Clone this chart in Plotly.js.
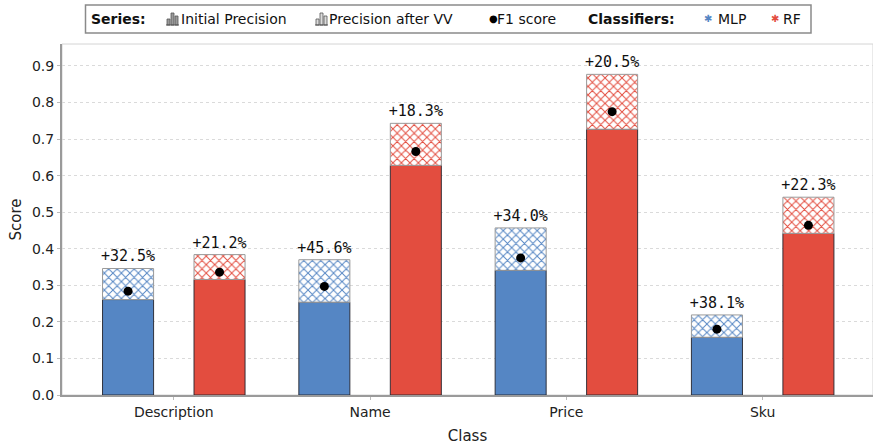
<!DOCTYPE html>
<html>
<head>
<meta charset="utf-8">
<script src="https://cdn.plot.ly/plotly-3.0.1.min.js"></script>
<style>html,body{margin:0;padding:0;background:#fff;}#chart{width:873px;height:445px;}</style>
</head>
<body>
<div id="chart"></div>
<script>
// ---- data ----
const categories = ['Description', 'Name', 'Price', 'Sku'];
const mlpInitial = [0.261, 0.254, 0.341, 0.158];
const mlpAfterVV = [0.346, 0.370, 0.457, 0.219];
const mlpF1 = [0.284, 0.297, 0.375, 0.180];
const rfInitial = [0.316, 0.628, 0.727, 0.442];
const rfAfterVV = [0.384, 0.743, 0.877, 0.541];
const rfF1 = [0.336, 0.666, 0.775, 0.464];
const mlpGainLabels = ['+32.5%', '+45.6%', '+34.0%', '+38.1%'];
const rfGainLabels = ['+21.2%', '+18.3%', '+20.5%', '+22.3%'];
const yTickVals = [0, 0.1, 0.2, 0.3, 0.4, 0.5, 0.6, 0.7, 0.8, 0.9];

// ---- style ----
const BLUE = '#5586C4';
const RED = '#E34D3F';
const FONT = 'DejaVu Sans, sans-serif';
const MONO = 'DejaVu Sans Mono, monospace';

const W = 873, H = 445, ML = 62, MR = 0, MT = 44, MB = 50;
const PW = W - ML - MR, PH = H - MT - MB;
const X = px => (px - ML) / PW;
const Y = py => (H - MB - py) / PH;

function diff(a, b) { return a.map((v, i) => v - b[i]); }

function initialTrace(name, y, color, group) {
  return {
    type: 'bar', name: name, x: categories, y: y, offsetgroup: group,
    marker: { color: color, line: { color: 'rgba(35,35,45,0.9)', width: 1 } },
    hoverinfo: 'skip'
  };
}
function gainTrace(name, initial, after, labels, color, group) {
  return {
    type: 'bar', name: name, x: categories, y: diff(after, initial), base: initial,
    offsetgroup: group,
    marker: {
      color: 'white',
      line: { color: '#9a9a9a', width: 1 },
      pattern: { shape: 'x', fgcolor: color, bgcolor: 'white', size: 6, solidity: 0.3 }
    },
    text: labels, textposition: 'outside', constraintext: 'none', cliponaxis: false,
    textfont: { family: MONO, size: 15, color: '#111' },
    hoverinfo: 'skip'
  };
}
function f1Trace(name, y, group) {
  return {
    type: 'scatter', mode: 'markers', name: name, x: categories, y: y, offsetgroup: group,
    marker: { color: '#000', size: 9, symbol: 'circle' }, cliponaxis: false, hoverinfo: 'skip'
  };
}

const data = [
  initialTrace('MLP initial', mlpInitial, BLUE, 'mlp'),
  gainTrace('MLP after VV', mlpInitial, mlpAfterVV, mlpGainLabels, BLUE, 'mlp'),
  initialTrace('RF initial', rfInitial, RED, 'rf'),
  gainTrace('RF after VV', rfInitial, rfAfterVV, rfGainLabels, RED, 'rf'),
  f1Trace('MLP F1', mlpF1, 'mlp'),
  f1Trace('RF F1', rfF1, 'rf')
];

// ---- legend drawn as shapes + annotations ----
const shapes = [
  { type: 'rect', xref: 'paper', yref: 'paper', x0: 0, x1: 1, y0: 0, y1: 1,
    line: { color: '#d4d4d4', width: 1 }, layer: 'below' },
  { type: 'rect', xref: 'paper', yref: 'paper', x0: X(85.5), x1: X(811), y0: Y(33), y1: Y(5),
    line: { color: '#8a8a8a', width: 1.5 }, fillcolor: 'white' }
];
function barIcon(x0, hatched) {
  const bars = [[1, 4, 19], [5, 8, 13], [9, 12, 16]];
  bars.forEach(b => {
    shapes.push({ type: 'rect', xref: 'paper', yref: 'paper',
      x0: X(x0 + b[0]), x1: X(x0 + b[1]), y0: Y(25), y1: Y(b[2]),
      line: { color: '#555', width: 0.8 }, fillcolor: hatched ? '#dcdcdc' : '#9a9a9a' });
  });
  shapes.push({ type: 'line', xref: 'paper', yref: 'paper', x0: X(x0), x1: X(x0 + 13), y0: Y(25), y1: Y(25),
    line: { color: '#555', width: 1 } });
}
barIcon(166, false);
barIcon(315, true);

function ann(text, px, color, size, bold) {
  return { xref: 'paper', yref: 'paper', x: X(px), y: Y(19), xanchor: 'left', yanchor: 'middle',
    text: bold ? '<b>' + text + '</b>' : text, showarrow: false, borderpad: 0,
    font: { family: FONT, size: size || 14, color: color || '#111' } };
}
const annotations = [
  ann('Series:', 90, '#111', 14, true),
  ann('Initial Precision', 180),
  ann('Precision after VV', 328),
  ann('●', 488, '#000', 10),
  ann('F1 score', 496),
  ann('Classifiers:', 587, '#111', 14, true),
  ann('✱', 703, BLUE, 10),
  ann('MLP', 717),
  ann('✱', 770, RED, 10),
  ann('RF', 782)
];

const layout = {
  width: W, height: H,
  margin: { l: ML, r: MR, t: MT, b: MB, pad: 0 },
  paper_bgcolor: 'white', plot_bgcolor: 'white',
  showlegend: false,
  barmode: 'group', bargap: 0.068, bargroupgap: 0.442,
  scattermode: 'group', scattergap: 0.068,
  font: { family: FONT, size: 14, color: '#222' },
  xaxis: {
    type: 'category', range: [-0.5695, 3.562], fixedrange: true,
    showline: true, linecolor: '#9a9a9a', linewidth: 2,
    ticks: 'outside', ticklen: 3, tickcolor: '#bbb', tickwidth: 1,
    showgrid: false, zeroline: false,
    tickfont: { family: FONT, size: 14, color: '#222' },
    title: { text: 'Class', font: { family: FONT, size: 15, color: '#222' } }
  },
  yaxis: {
    range: [0, 0.96], fixedrange: true,
    tickvals: yTickVals, tickformat: '.1f',
    showline: true, linecolor: '#9a9a9a', linewidth: 2,
    ticks: 'outside', ticklen: 3, tickcolor: '#bbb',
    showgrid: true, gridcolor: '#dadada', griddash: 'dot', gridwidth: 1,
    zeroline: false,
    tickfont: { family: FONT, size: 14, color: '#222' },
    title: { text: 'Score', font: { family: FONT, size: 15, color: '#222' } }
  },
  shapes: shapes,
  annotations: annotations
};

Plotly.newPlot('chart', data, layout, { displayModeBar: false, staticPlot: true });
</script>
</body>
</html>
